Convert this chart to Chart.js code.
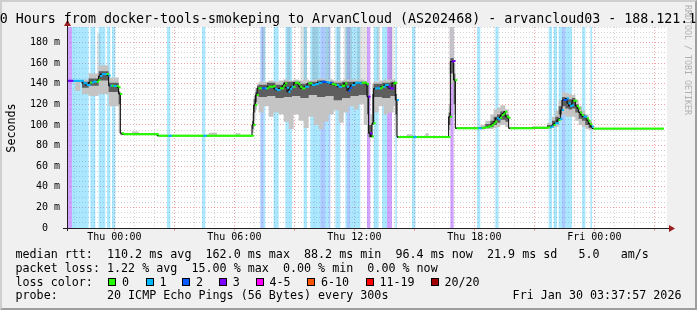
<!DOCTYPE html>
<html>
<head>
<meta charset="utf-8">
<script src="https://cdn.jsdelivr.net/npm/chart.js@4.4.1/dist/chart.umd.min.js"></script>
<style>
html, body { margin: 0; padding: 0; }
body {
  width: 697px; height: 310px; overflow: hidden; position: relative;
  background: #f0f0f0; font-family: "DejaVu Sans Mono", monospace; color: #000;
}
#frame {
  position: absolute; left: 0; top: 0; width: 697px; height: 310px; box-sizing: border-box;
  border-top: 2px solid #cfcfcf; border-left: 2px solid #cfcfcf;
  border-right: 2px solid #9e9e9e; border-bottom: 2px solid #9e9e9e;
}
#c { position: absolute; left: 0; top: 0; }
.t { position: absolute; white-space: pre; font-size: 11.7px; line-height: 14px; }
.box { position: absolute; top: 278px; width: 8px; height: 8px; box-sizing: border-box; border: 1px solid #000; }
</style>
</head>
<body>
<div id="frame"></div>
<canvas id="c" width="697" height="310"></canvas>

<div class="t" style="left:-8.2px;top:11.4px;font-size:13.3px;line-height:16px;">30 Hours from docker-tools-smokeping to ArvanCloud (AS202468) - arvancloud03 - 188.121.1</div>
<div class="t" style="left:-19.2px;top:120.5px;width:60px;text-align:center;transform:rotate(-90deg);">Seconds</div>
<div class="t" style="left:683px;top:5px;font-size:8.3px;line-height:10px;writing-mode:vertical-rl;color:#b0b0b0;">RRDTOOL / TOBI OETIKER</div>

<div class="t" style="left:15.5px;top:246.9px;">median rtt:  110.2 ms avg  162.0 ms max  88.2 ms min  96.4 ms now  21.9 ms sd   5.0   am/s</div>
<div class="t" style="left:15.5px;top:260.7px;">packet loss: 1.22 % avg  15.00 % max  0.00 % min  0.00 % now</div>
<div class="t" style="left:15.5px;top:274.9px;">loss color:</div>
<div id="lossLegend"></div>
<div class="t" style="left:15.5px;top:288.4px;">probe:       20 ICMP Echo Pings (56 Bytes) every 300s</div>
<div class="t" style="left:512.6px;top:288.4px;">Fri Jan 30 03:37:57 2026</div>

<script>
// time axis: hours relative to Thu 00:00, one slot = 5 minutes
const X_MIN = -2.3675;          // Wed 21:37:57
const X_MAX = 27.6325;          // Fri 03:37:57
const SLOTS = 358;
const Y_MAX = 195;

const hourTicks = [];
for (let h = -2; h <= 27; h++) hourTicks.push(h);
const dayLabelHours = [0, 6, 12, 18, 24];
const dayLabels = ['Thu 00:00', 'Thu 06:00', 'Thu 12:00', 'Thu 18:00', 'Fri 00:00'];
const yTicks = [];
for (let v = 0; v <= 195; v += 5) yTicks.push(v);

// loss legend
const lossNames = ['0', '1', '2', '3', '4-5', '6-10', '11-19', '20/20'];
const lossColors = ['#26ff00', '#00b8ff', '#0059ff', '#7e00ff', '#ff00ff', '#ff5500', '#ff0000', '#a00000'];
const lossBoxX = [108.3, 145.7, 182.3, 219, 255.7, 307.3, 365.7, 430.7];

// loss runs: [fromSlot, toSlot, lost pings]
const lossRuns = [
  [0,4,3],[4,14,1],[15,18,1],[20,24,1],[25,27,1],[28,30,1],[61,63,1],[82,84,1],
  [117,119,2],[119,120,1],[125,128,1],[132,136,1],[143,145,1],[147,153,1],[153,156,2],
  [156,158,1],[158,159,2],[162,165,1],[168,169,1],[169,171,2],[171,177,1],[181,183,3],
  [185,188,1],[190,193,1],[193,196,3],[198,199,1],[208,210,1],[231,233,3],[247,249,1],
  [258,260,1],[290,292,1],[293,295,1],[296,298,1],[298,300,2],[300,304,1],[310,312,1],[315,316,1]
];

// median rtt (ms): [fromSlot, value] held until the next entry
const medianSteps = [
  [0,142.8],[10,140.5],[12,138.7],[14,141.2],[16,141.9],[19,143.5],[20,147.5],[21,149.3],
  [25,148],[26,138],[28,137.7],[31,136.5],[32,130],[33,92],[34,91],[55,89.5],
  [112,100],[113,119.3],[114,129],[115,135.5],[121,137],[124,137.7],[125,135],[126,133.8],
  [128,135.5],[130,138],[131,140.3],[132,136],[133,132.2],[134,135],[135,137],[137,140.9],
  [139,139.6],[140,137],[141,135.5],[143,137],[145,140.3],[147,138.7],[149,139.6],[151,140.9],
  [153,141.9],[155,141.5],[157,140.9],[159,139.5],[161,138.7],[163,137],[165,138],[167,140.3],
  [168,137],[169,133.2],[170,136],[171,138.7],[173,140.9],[176,140.3],[177,140.9],[180,139.6],
  [181,127.4],[182,91.9],[183,88.7],[184,101.6],[185,135.5],[189,137],[191,138.7],[193,137],
  [194,135.5],[196,140.3],[197,140.9],[198,124.2],[199,88.2],[230,108],[231,161.5],[232,162],
  [233,143.5],[234,96.8],[249,97.2],[251,97.7],[253,98.5],[255,100],[256,101.5],[257,103.2],
  [258,106.4],[259,105.5],[260,107],[261,109.6],[262,111],[263,112.8],[264,108],[265,107],
  [266,96.8],[280,97.2],[289,97.7],[291,98.5],[292,100],[293,101.6],[295,104.8],[296,106],
  [297,114.5],[298,124.2],[300,125.8],[301,121],[302,118.3],[303,119],[304,123.5],[306,118.3],
  [307,116.1],[308,112],[309,109.6],[310,108],[312,106.5],[313,104],[314,100.9],[315,98.5],[316,96.4]
];

// smoke bands (ms): [fromSlot, low, high]
const smokeFaint = [
  [0,0,0],[19,150,189],[21,0,0],[118,143,195],[120,0,0],[133,143,195],[135,0,0],[141,143,195],
  [145,0,0],[148,143,195],[152,0,0],[156,143,195],[159,0,0],[163,143,195],[165,0,0],[167,143,195],
  [172,0,0],[175,143,195],[181,0,0],[187,143,195],[189,0,0],[194,143,195],[197,0,0],
  [230,150,195],[233,0,0]
];
const smokeOuter = [
  [0,142.8,142.8],[6,133,143],[9,142.8,142.8],[10,130,144],[14,128,150],[20,130,158],[26,118,146],
  [32,92,133],[33,90,92],[34,90.5,92],[40,90.5,93.5],[44,90.5,92],[55,89,90.5],[86,89,92.5],[91,89,90.5],
  [102,89,92],[105,89,90.5],[112,92,112],[113,105,128],[114,115,136],[115,120,140],
  [116,112,142],[119,118,142],[122,108,143],[125,112,142],[128,110,143],[131,103,144],[134,96,143],
  [137,110,144],[140,104,143],[143,97,144],[146,108,143],[149,100,144],[152,96,145],[155,103,144],
  [158,110,144],[161,114,143],[164,102,143],[167,112,144],[170,118,144],[173,115,144],[176,120,144],
  [179,100,143],[181,92,140],[182,87,96],[183,92,110],[184,110,140],[185,112,142],[188,118,143],
  [191,110,144],[194,112,144],[197,118,144],[198,90,140],[199,87.5,89],[205,87.5,91],[208,87.5,89],
  [216,87.5,92],[218,87.5,89],[230,95,120],[231,140,195],[233,110,160],
  [234,96,97.5],[249,95.5,100],[252,96,104],[255,96,110],[257,97,115],[259,98,117],
  [261,100,119],[264,98,115],[266,96,97.5],[280,96,98.5],[289,96,102],[292,97,108],
  [294,98,114],[296,104,124],[298,110,132],[300,108,131],[302,108,130],[304,108,129],[306,104,124],
  [308,100,118],[310,98,114],[312,96,110],[314,95,104],[316,96,97]
];
const smokeInner = [
  [0,142.8,142.8],[10,136,142],[14,138,145],[20,143,152],[26,132,141],[32,120,132],[33,91,92],
  [34,90.6,91.4],[55,89.2,89.9],[112,96,104],[113,112,125],[114,122,132],[115,128,138],
  [116,127,139],[121,128,141],[126,126,139],[131,127,142],[136,128,142],[141,126,140],[146,129,142],
  [151,127,143],[156,128,142],[161,124,141],[166,126,142],[171,128,142],[176,129,142],[181,110,140],
  [182,88,100],[184,100,130],[185,127,140],[190,126,141],[195,128,142],[198,110,130],[199,87.9,88.6],
  [230,100,112],[231,150,165],[233,120,150],[234,96.4,97.2],[249,96.5,98],[252,97,101],[255,98,104],
  [257,100,108],[259,102,110],[261,105,113],[264,103,110],[266,96.4,97.2],[280,96.5,98],[289,97,100],
  [292,99,104],[294,102,108],[296,110,118],[298,118,127],[300,116,126],[302,115,125],[304,116,126],
  [306,112,120],[308,106,113],[310,104,110],[312,100,106],[314,97,102],[316,96,97]
];

// ---- build per-slot series from the runs ----
function expand(runs) {
  const out = [];
  let k = 0;
  for (let s = 0; s < SLOTS; s++) {
    while (k + 1 < runs.length && runs[k + 1][0] <= s) k++;
    out.push(runs[k]);
  }
  return out;
}
const lossPerSlot = new Array(SLOTS).fill(0);
lossRuns.forEach(r => { for (let s = r[0]; s < r[1]; s++) lossPerSlot[s] = r[2]; });
const median = expand(medianSteps).map(r => r[1]);

const edgeX = s => X_MIN + s / 12;
function stepped(vals) {
  const pts = vals.map((y, s) => ({x: edgeX(s), y}));
  pts.push({x: edgeX(SLOTS), y: vals[SLOTS - 1]});
  return pts;
}
function bandSets(runs, color, order) {
  const rows = expand(runs);
  const base = {type: 'line', stepped: 'after', pointRadius: 0, borderWidth: 0, borderColor: 'transparent', order};
  return [
    Object.assign({}, base, {data: stepped(rows.map(r => r[1])), fill: false}),
    Object.assign({}, base, {data: stepped(rows.map(r => r[2])), fill: '-1', backgroundColor: color})
  ];
}

const lossBg = {1: 'rgba(0,184,255,0.33)', 2: 'rgba(0,89,255,0.33)', 3: 'rgba(126,0,255,0.36)'};
const datasets = [];
[1, 2, 3].forEach(level => {
  const vals = lossPerSlot.map(l => l === level ? Y_MAX : 0);
  const pts = stepped(vals);
  pts[pts.length - 1].y = 0;
  datasets.push({type: 'line', data: pts, stepped: 'after', fill: 'origin', backgroundColor: lossBg[level],
    borderWidth: 0, borderColor: 'transparent', pointRadius: 0, order: 20});
});
datasets.push(...bandSets(smokeFaint, 'rgba(90,90,90,0.16)', 15));
datasets.push(...bandSets(smokeOuter, '#c4c4c4', 14));
datasets.push(...bandSets(smokeInner, '#5e5e5e', 13));
datasets.push({type: 'line', data: stepped(median), stepped: 'after', borderColor: '#000', borderWidth: 1,
  pointRadius: 0, fill: false, order: 2});
datasets.push({type: 'line', showLine: false, order: 1,
  data: median.map((y, s) => ({x: edgeX(s) + 1 / 24, y})),
  pointStyle: 'line', pointRadius: 1.1, pointBorderWidth: 2,
  pointBorderColor: c => lossColors[lossPerSlot[c.dataIndex]] || '#26ff00'});

// loss legend boxes
const legendHost = document.getElementById('lossLegend');
lossNames.forEach((name, i) => {
  const b = document.createElement('div');
  b.className = 'box';
  b.style.left = lossBoxX[i] + 'px';
  b.style.background = lossColors[i];
  legendHost.appendChild(b);
  const t = document.createElement('div');
  t.className = 't';
  t.style.left = (lossBoxX[i] + 13.7) + 'px';
  t.style.top = '274.9px';
  t.textContent = name;
  legendHost.appendChild(t);
});

const MAJOR = 'rgba(230,70,70,0.5)';
const MINOR = 'rgba(140,140,140,0.4)';

const canvasBg = {
  id: 'canvasBg',
  beforeDraw(chart) {
    const a = chart.chartArea, ctx = chart.ctx;
    ctx.save();
    ctx.fillStyle = '#fff';
    ctx.fillRect(a.left, a.top, a.right - a.left, a.bottom - a.top);
    ctx.restore();
  }
};
const axisArrows = {
  id: 'axisArrows',
  afterDraw(chart) {
    const a = chart.chartArea, ctx = chart.ctx;
    const y0 = Math.round(a.bottom) + 0.5, x0 = Math.round(a.left) + 0.5;
    ctx.save();
    ctx.strokeStyle = '#202020';
    ctx.lineWidth = 1;
    ctx.beginPath();
    ctx.moveTo(a.left - 4, y0); ctx.lineTo(a.right + 3, y0);
    ctx.moveTo(x0, a.bottom + 3); ctx.lineTo(x0, a.top - 3);
    ctx.stroke();
    ctx.fillStyle = '#9b1c1c';
    ctx.beginPath();
    ctx.moveTo(a.right + 2, y0 - 3.5); ctx.lineTo(a.right + 8, y0); ctx.lineTo(a.right + 2, y0 + 3.5);
    ctx.closePath(); ctx.fill();
    ctx.beginPath();
    ctx.moveTo(x0 - 3.5, a.top - 1); ctx.lineTo(x0, a.top - 7); ctx.lineTo(x0 + 3.5, a.top - 1);
    ctx.closePath(); ctx.fill();
    ctx.restore();
  }
};

new Chart(document.getElementById('c'), {
  type: 'line',
  data: {datasets},
  options: {
    responsive: false,
    animation: false,
    events: [],
    layout: {padding: {top: 27, right: 30, left: 0, bottom: 0}},
    plugins: {legend: {display: false}, tooltip: {enabled: false}},
    scales: {
      x: {
        type: 'linear', min: X_MIN, max: X_MAX,
        afterFit: s => { s.height = 310 - 228; },
        afterBuildTicks: s => { s.ticks = hourTicks.map(v => ({value: v})); },
        ticks: {
          autoSkip: false, maxRotation: 0, padding: 0, color: '#000',
          font: {family: 'DejaVu Sans Mono', size: 10},
          callback: v => { const i = dayLabelHours.indexOf(v); return i >= 0 ? dayLabels[i] : ''; }
        },
        grid: {
          color: c => (c.tick && c.tick.value % 3 === 0) ? MAJOR : MINOR,
          tickColor: c => (c.tick && c.tick.value % 3 === 0) ? MAJOR : 'rgba(0,0,0,0)',
          tickLength: 3, lineWidth: 1
        },
        border: {display: false, dash: [1, 2]}
      },
      y: {
        min: 0, max: Y_MAX,
        afterFit: s => { s.width = 67; },
        afterBuildTicks: s => { s.ticks = yTicks.map(v => ({value: v})); },
        ticks: {
          autoSkip: false, padding: 7, color: '#000',
          font: {family: 'DejaVu Sans Mono', size: 10},
          callback: v => v === 0 ? '0  ' : (v % 20 === 0 && v <= 180 ? v + ' m' : '')
        },
        grid: {
          color: c => (c.tick && c.tick.value % 20 === 0) ? MAJOR : MINOR,
          drawTicks: false, lineWidth: 1
        },
        border: {display: false, dash: [1, 2]}
      }
    }
  },
  plugins: [canvasBg, axisArrows]
});
</script>
</body>
</html>
